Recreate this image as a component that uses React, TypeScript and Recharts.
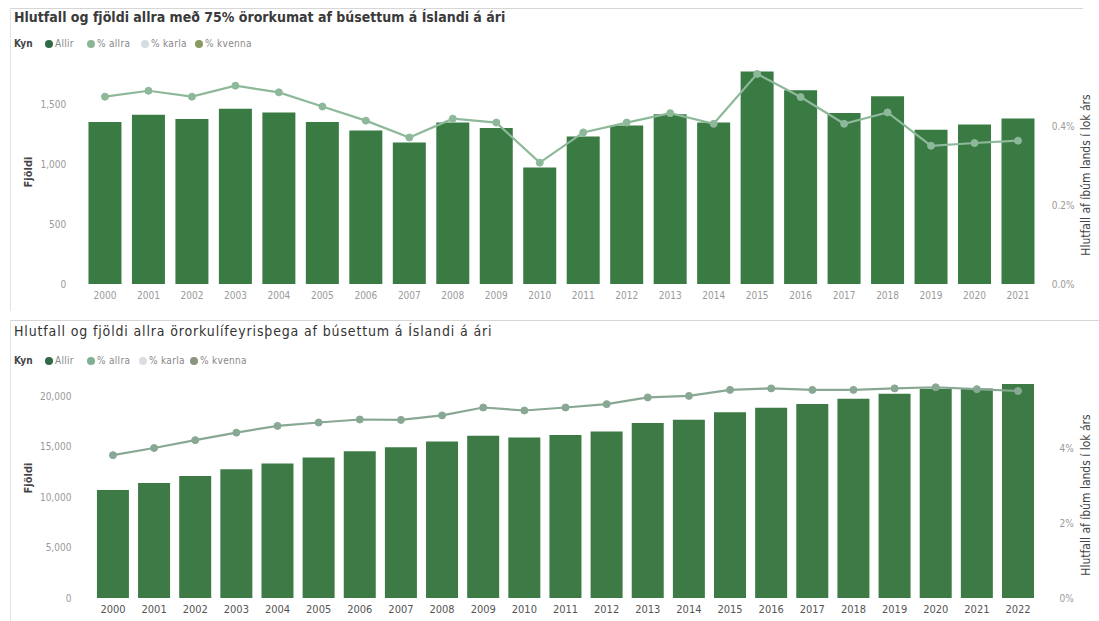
import React from 'react';
import { ComposedChart, Bar, Line, XAxis, YAxis } from 'recharts';

const years1 = ['2000','2001','2002','2003','2004','2005','2006','2007','2008','2009','2010','2011','2012','2013','2014','2015','2016','2017','2018','2019','2020','2021'];
const allir1 = [1350,1410,1375,1460,1430,1350,1280,1180,1345,1300,970,1230,1320,1415,1345,1770,1615,1425,1565,1285,1330,1380];
const pctAllra1 = [0.477,0.492,0.477,0.505,0.488,0.452,0.416,0.373,0.421,0.411,0.309,0.386,0.411,0.435,0.408,0.535,0.476,0.408,0.437,0.352,0.359,0.365];

const years2 = ['2000','2001','2002','2003','2004','2005','2006','2007','2008','2009','2010','2011','2012','2013','2014','2015','2016','2017','2018','2019','2020','2021','2022'];
const allir2 = [10700,11400,12100,12770,13320,13920,14550,14950,15500,16070,15900,16150,16500,17330,17660,18420,18850,19220,19740,20240,20730,20770,21200];
const pctAllra2 = [3.81,4.0,4.21,4.41,4.59,4.68,4.76,4.75,4.87,5.08,5.0,5.08,5.17,5.35,5.39,5.55,5.59,5.55,5.55,5.59,5.62,5.57,5.52];

const legendLabels = ['Allir', '% allra', '% karla', '% kvenna'];
const legendColors1 = ['#2d6a45', '#8ab596', '#d5dde0', '#889a5e'];
const legendColors2 = ['#2f6b48', '#7fb094', '#dcdde0', '#8a957f'];

const title1 = 'Hlutfall og fjöldi allra með 75% örorkumat af búsettum á Íslandi á ári';
const title2 = 'Hlutfall og fjöldi allra örorkulífeyrisþega af búsettum á Íslandi á ári';
const leftTitle = 'Fjöldi';
const rightTitle = 'Hlutfall af íbúm lands í lok árs';

const data1 = years1.map((y, i) => ({ year: y, allir: allir1[i], pct: pctAllra1[i] }));
const data2 = years2.map((y, i) => ({ year: y, allir: allir2[i], pct: pctAllra2[i] }));

const condensed = "'DejaVu Sans Condensed', 'DejaVu Sans', sans-serif";
const tickFont = { fontSize: 10, fill: '#9a9a9a', fontFamily: condensed, fontStretch: 'condensed' as any };

function Legend({ top, colors, xs }: { top: number; colors: string[]; xs: number[] }) {
  return (
    <>
      <div style={{ position: 'absolute', left: 14, top: top - 7, fontSize: 10, fontWeight: 'bold', color: '#444', fontFamily: condensed, fontStretch: 'condensed' }}>Kyn</div>
      {legendLabels.map((l, i) => (
        <div key={l} style={{ position: 'absolute', left: xs[i] - 4, top: top - 7, display: 'flex', alignItems: 'center', fontSize: 10, color: '#888', fontFamily: condensed, fontStretch: 'condensed', whiteSpace: 'nowrap', letterSpacing: 0.3 }}>
          <span style={{ display: 'inline-block', width: 8, height: 8, borderRadius: 4, background: colors[i], marginRight: 2 }} />
          {l}
        </div>
      ))}
    </>
  );
}

function VText({ text, x, y, rotate, size, bold }: { text: string; x: number; y: number; rotate: number; size: number; bold?: boolean }) {
  return (
    <div style={{ position: 'absolute', left: x, top: y, transform: `translate(-50%, -50%) rotate(${rotate}deg)`, fontSize: size, fontWeight: bold ? 'bold' : 'normal', color: '#444', whiteSpace: 'nowrap', fontFamily: condensed, fontStretch: 'condensed' }}>{text}</div>
  );
}

export default function App() {
  return (
    <div style={{ position: 'absolute', left: 0, top: 0, width: 1099, height: 621, background: '#fff', overflow: 'hidden' }}>
      <div style={{ position: 'absolute', left: 10, top: 8, width: 1072, height: 302, borderTop: '1px solid #d6d6d6', borderLeft: '1px solid #e2e2e2' }} />
      <div style={{ position: 'absolute', left: 10, top: 320, width: 1089, height: 301, borderTop: '1px solid #d6d6d6', borderLeft: '1px solid #e2e2e2' }} />

      <div style={{ position: 'absolute', left: 14, top: 9, fontSize: 14, fontWeight: 'bold', color: '#3a3a3a', fontFamily: condensed, fontStretch: 'condensed', whiteSpace: 'nowrap' }}>{title1}</div>
      <Legend top={45} colors={legendColors1} xs={[49, 91, 145, 199]} />

      <div style={{ position: 'absolute', left: 14, top: 323, fontSize: 14, color: '#333', fontFamily: condensed, fontStretch: 'condensed', whiteSpace: 'nowrap', letterSpacing: 0.85 }}>{title2}</div>
      <Legend top={362} colors={legendColors2} xs={[49, 91, 143, 194]} />

      <VText text={leftTitle} x={28} y={172} rotate={-90} size={11} bold />
      <VText text={rightTitle} x={1086} y={175} rotate={-90} size={12} />
      <VText text={leftTitle} x={28} y={478} rotate={-90} size={11} bold />
      <VText text={rightTitle} x={1086} y={495} rotate={-90} size={12} />

      <div style={{ position: 'absolute', left: 0, top: 0 }}>
        <ComposedChart width={1099} height={304} data={data1} margin={{ top: 68, right: 0, bottom: 0, left: 0 }} barCategoryGap="12%">
          <XAxis dataKey="year" axisLine={false} tickLine={false} tick={tickFont} tickMargin={2} height={20} interval={0} />
          <YAxis yAxisId="l" orientation="left" width={83.25} domain={[0, 1800]} ticks={[0, 500, 1000, 1500]} axisLine={false} tickLine={false} tick={tickFont} tickMargin={11} tickFormatter={(v: number) => v.toLocaleString('en-US')} />
          <YAxis yAxisId="r" orientation="right" width={59.25} domain={[0, 0.55]} ticks={[0, 0.2, 0.4]} axisLine={false} tickLine={false} tick={tickFont} tickMargin={6} tickFormatter={(v: number) => v.toFixed(1) + '%'} />
          <Bar yAxisId="l" dataKey="allir" fill="#3a7b44" isAnimationActive={false} />
          <Line yAxisId="r" dataKey="pct" stroke="#8db99a" strokeWidth={2.2} dot={{ r: 3.5, fill: '#8db99a', stroke: '#8db99a', strokeWidth: 1 }} isAnimationActive={false} />
        </ComposedChart>
      </div>

      <div style={{ position: 'absolute', left: 0, top: 300 }}>
        <ComposedChart width={1099} height={321} data={data2} margin={{ top: 76, right: 0, bottom: 0, left: 0 }} barCategoryGap="11%">
          <XAxis dataKey="year" axisLine={false} tickLine={false} tick={{ ...tickFont, fill: '#555', fontSize: 11 }} tickMargin={1} height={23} interval={0} />
          <YAxis yAxisId="l" orientation="left" width={92.4} domain={[0, 22000]} ticks={[0, 5000, 10000, 15000, 20000]} axisLine={false} tickLine={false} tick={tickFont} tickMargin={15} tickFormatter={(v: number) => v.toLocaleString('en-US')} />
          <YAxis yAxisId="r" orientation="right" width={60.4} domain={[0, 5.92]} ticks={[0, 2, 4]} axisLine={false} tickLine={false} tick={tickFont} tickMargin={15} tickFormatter={(v: number) => v.toFixed(0) + '%'} />
          <Bar yAxisId="l" dataKey="allir" fill="#3d7a46" isAnimationActive={false} />
          <Line yAxisId="r" dataKey="pct" stroke="#88a894" strokeWidth={2.2} dot={{ r: 3.5, fill: '#88a894', stroke: '#88a894', strokeWidth: 1 }} isAnimationActive={false} />
        </ComposedChart>
      </div>
    </div>
  );
}
